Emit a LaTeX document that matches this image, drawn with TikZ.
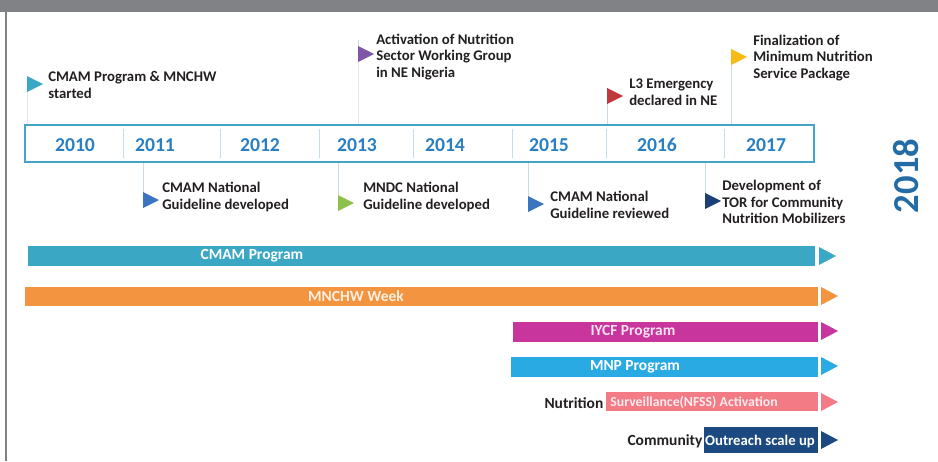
\documentclass[tikz,border=0pt]{standalone}
\usepackage{fontspec}
\setmainfont{Carlito}
\usetikzlibrary{positioning}

\definecolor{bandgray}{HTML}{808285}
\definecolor{boxblue}{HTML}{46A3C8}
\definecolor{yearblue}{HTML}{2A7FC3}
\definecolor{sepblue}{HTML}{C2DDEB}
\definecolor{stemgray}{HTML}{C9DCE6}
\definecolor{inkdark}{HTML}{231F20}
\definecolor{cmamteal}{HTML}{3AA8C4}
\definecolor{mnchworange}{HTML}{F39441}
\definecolor{iycfpink}{HTML}{C8359C}
\definecolor{mnpblue}{HTML}{2AAAE2}
\definecolor{nfsssalmon}{HTML}{F27B86}
\definecolor{outreachnavy}{HTML}{1C4A80}
\definecolor{flagpurple}{HTML}{7E57A8}
\definecolor{flagred}{HTML}{C2373C}
\definecolor{flagyellow}{HTML}{F8BB16}
\definecolor{flagblue}{HTML}{3B74C0}
\definecolor{flaggreen}{HTML}{8DC14B}
\definecolor{flagnavy}{HTML}{1C3F78}

\tikzset{
  pennant/.pic={\fill (0,-8) -- (16,0) -- (0,8) -- cycle;},
  barhead/.pic={\fill (0,-9) -- (17,0) -- (0,9) -- cycle;}
}

\begin{document}
\begin{tikzpicture}[x=0.025cm,y=-0.025cm,
  yearlbl/.style={text=yearblue,font=\fontsize{14}{16}\selectfont\bfseries},
  event/.style={anchor=west,align=left,inner sep=0pt,text=inkdark,
    font=\fontsize{10.5}{11.8}\selectfont\bfseries},
  stem/.style={stemgray,line width=0.5pt},
  barlbl/.style={text=white,font=\fontsize{11}{13}\selectfont\bfseries},
  sidelbl/.style={anchor=east,inner sep=1pt,text=inkdark,
    font=\fontsize{11}{13}\selectfont\bfseries}]
\useasboundingbox (0,0) rectangle (938,461);

% frame of the page
\fill[bandgray] (0,0) rectangle (938,12);
\draw[bandgray,line width=1.6pt] (6,12) -- (6,461);

% year strip
\node[draw=boxblue,line width=1.3pt,inner sep=0pt,
  minimum width=19.725cm,minimum height=0.925cm] (strip) at (419.5,143.5) {};
\foreach \xx in {123,220,319,413,512,606,724}
  \draw[sepblue,line width=0.5pt] (\xx,129) -- (\xx,158);
\foreach \yr/\xx in {2010/75,2011/155,2012/260,2013/357,2014/445,2015/549,2016/657,2017/766}
  \node[yearlbl] (y\yr) at (\xx,145) {\yr};
\node[yearlbl,text=yearblue!85!black,font=\fontsize{26}{28}\selectfont\bfseries,rotate=90] (y2018) at (906,176) {2018};

% milestones above the strip
\coordinate (fa) at (27,84);
\coordinate (fb) at (358,54);
\coordinate (fc) at (607,96);
\coordinate (fd) at (731,57);
\draw[stem] (fa |- strip.north) -- (fa) -- ++(0,-8);
\draw[stem] (fb |- strip.north) -- (fb) -- ++(0,-14);
\draw[stem] (fc |- strip.north) -- (fc) -- ++(0,-8);
\draw[stem] (fd |- strip.north) -- (fd) -- ++(0,-8);
\pic[fill=cmamteal] at (fa) {pennant};
\pic[fill=flagpurple] at (fb) {pennant};
\pic[fill=flagred] at (fc) {pennant};
\pic[fill=flagyellow] at (fd) {pennant};
\node[event] (ea) at (48,85) {CMAM Program \& MNCHW\\started};
\node[event] (eb) at (376,57) {Activation of Nutrition\\Sector Working Group\\in NE Nigeria};
\node[event] (ec) at (629,92) {L3 Emergency\\declared in NE};
\node[event] (ed) at (753,58) {Finalization of\\Minimum Nutrition\\Service Package};

% milestones below the strip
\coordinate (fe) at (143,200);
\coordinate (ff) at (338,203);
\coordinate (fg) at (528,204);
\coordinate (fh) at (705,201);
\draw[stem] (fe |- strip.south) -- (fe);
\draw[stem] (ff |- strip.south) -- (ff);
\draw[stem] (fg |- strip.south) -- (fg);
\draw[stem] (fh |- strip.south) -- (fh);
\pic[fill=flagblue] at (fe) {pennant};
\pic[fill=flaggreen] at (ff) {pennant};
\pic[fill=flagblue] at (fg) {pennant};
\pic[fill=flagnavy] at (fh) {pennant};
\node[event] (ee) at (162,197) {CMAM National\\Guideline developed};
\node[event] (ef) at (363,197) {MNDC National\\Guideline developed};
\node[event] (eg) at (550,205) {CMAM National\\Guideline reviewed};
\node[event] (eh) at (722,202) {Development of\\TOR for Community\\Nutrition Mobilizers};

% programme bars
\fill[cmamteal] (28,246) rectangle (815,266);
\pic[fill=cmamteal] at (819,256) {barhead};
\node[barlbl] (lcmam) at (252,256) {CMAM Program};

\fill[mnchworange] (25,287) rectangle (818,306);
\pic[fill=mnchworange] at (821,296) {barhead};
\node[barlbl,text=white!85!mnchworange] (lmnchw) at (356,296) {MNCHW Week};

\fill[iycfpink] (513,322) rectangle (818,342);
\pic[fill=iycfpink] at (821,331) {barhead};
\node[barlbl,text=white!85!iycfpink] (liycf) at (633,332) {IYCF Program};

\fill[mnpblue] (511,357) rectangle (818,377);
\pic[fill=mnpblue] at (821,366) {barhead};
\node[barlbl] (lmnp) at (635,367) {MNP Program};

\fill[nfsssalmon] (606,392) rectangle (818,411);
\pic[fill=nfsssalmon] at (821,402) {barhead};
\node[barlbl,text=white!85!nfsssalmon,font=\fontsize{9.8}{12}\selectfont\bfseries]
  (lnfss) at (694,402) {Surveillance(NFSS) Activation};
\node[sidelbl] (snfss) at (605,403) {Nutrition};

\fill[outreachnavy] (704,427) rectangle (818,453);
\pic[fill=outreachnavy] at (821,440) {barhead};
\node[barlbl,font=\fontsize{10.5}{12}\selectfont\bfseries] (lout) at (760,441) {Outreach scale up};
\node[sidelbl] (sout) at (704,441) {Community};
\end{tikzpicture}
\end{document}
